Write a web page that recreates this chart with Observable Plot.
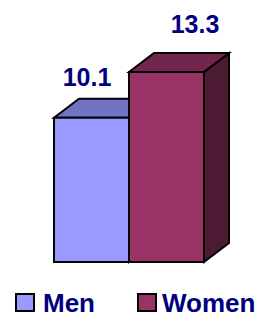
<!DOCTYPE html>
<html><head><meta charset="utf-8">
<script src="https://cdn.jsdelivr.net/npm/d3@7"></script>
<script src="https://cdn.jsdelivr.net/npm/@observablehq/plot@0.6"></script>
<style>
body{margin:0;background:#fff;font-family:"Liberation Sans",Arial,sans-serif;}
#chart svg{display:block}
</style></head><body><div id="chart"></div>
<script>
const categories = ["Men", "Women"];
const values = [10.1, 13.3];
const valueLabels = ["10.1", "13.3"];

const front = {Men: "#9999FF", Women: "#993366"};
const top_ = {Men: "#7373C4", Women: "#73264D"};
const side = {Men: "#4C4C80", Women: "#4D1A33"};
const DX = 25, DY = 19;

const data = categories.map((c, i) => ({category: c, value: values[i], label: valueLabels[i]}));

function faces(index, scales) {
  const x = scales.x, y = scales.y;
  const bw = x.bandwidth();
  const g = d3.create("svg:g").attr("stroke", "#000").attr("stroke-width", 2).attr("stroke-linejoin", "miter");
  data.forEach(d => {
    const x0 = x(d.category), x1 = x0 + bw, y0 = y(0), y1 = y(d.value);
    g.append("polygon").attr("fill", side[d.category])
      .attr("points", [[x1, y1], [x1 + DX, y1 - DY], [x1 + DX, y0 - DY], [x1, y0]].join(" "));
    g.append("polygon").attr("fill", top_[d.category])
      .attr("points", [[x0, y1], [x0 + DX, y1 - DY], [x1 + DX, y1 - DY], [x1, y1]].join(" "));
  });
  return g.node();
}

const chart = Plot.plot({
  width: 268,
  height: 280,
  marginLeft: 54,
  marginRight: 64,
  marginTop: 72,
  marginBottom: 18,
  x: {domain: categories, padding: 0, axis: null},
  y: {domain: [0, d3.max(values)], axis: null},
  color: {domain: categories, range: categories.map(c => front[c])},
  style: {fontFamily: "Liberation Sans, Arial, sans-serif", background: "#fff"},
  marks: [
    faces,
    Plot.barY(data, {x: "category", y: "value", fill: "category", stroke: "#000", strokeWidth: 2}),
    Plot.text(data.filter(d => d.category === "Men"), {x: "category", y: "value", text: "label", dx: -5, dy: -32, lineAnchor: "bottom", fill: "#000080", fontSize: 25, fontWeight: "bold"}),
    Plot.text(data.filter(d => d.category === "Women"), {x: "category", y: "value", text: "label", dx: 28, dy: -40, lineAnchor: "bottom", fill: "#000080", fontSize: 25, fontWeight: "bold"})
  ]
});
document.getElementById("chart").appendChild(chart);

// Legend below the chart
const legendItems = [
  {name: categories[0], sx: 16, tx: 43},
  {name: categories[1], sx: 138, tx: 162}
];
const leg = d3.select("#chart").append("svg").attr("width", 268).attr("height", 39).style("display", "block");
legendItems.forEach(it => {
  leg.append("rect").attr("x", it.sx).attr("y", 14).attr("width", 18).attr("height", 17)
    .attr("fill", front[it.name]).attr("stroke", "#000").attr("stroke-width", 2);
  leg.append("text").attr("x", it.tx).attr("y", 32).text(it.name)
    .attr("fill", "#000080").attr("font-size", 26).attr("font-weight", "bold")
    .attr("font-family", "Liberation Sans, Arial, sans-serif");
});
</script></body></html>
